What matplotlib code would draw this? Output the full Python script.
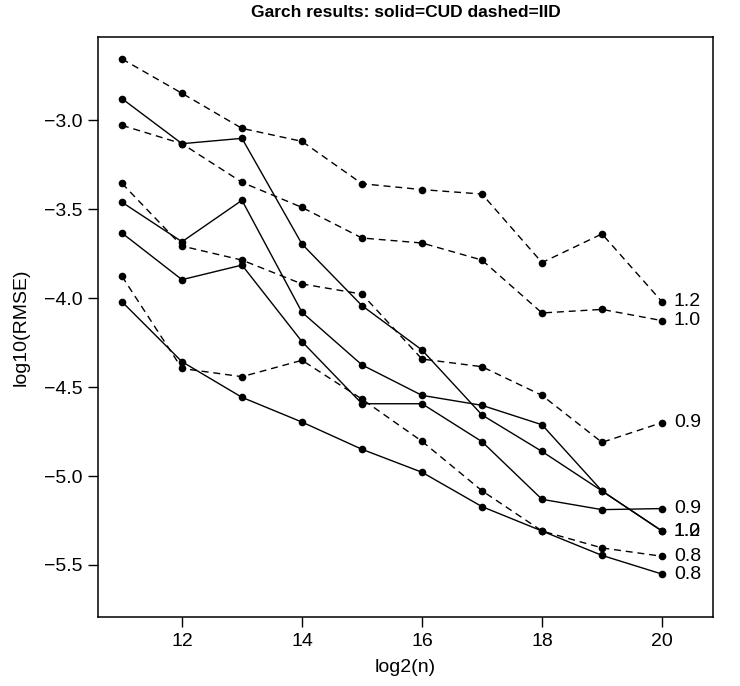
import matplotlib
matplotlib.use("Agg")
import matplotlib.pyplot as plt

plt.rcParams['font.family'] = ['Liberation Sans', 'DejaVu Sans']

log2n = [11, 12, 13, 14, 15, 16, 17, 18, 19, 20]

# CUD (solid) results, labelled by parameter value
cud_labels = ["1.2", "1.0", "0.9", "0.8"]
cud_12 = [-2.880, -3.133, -3.103, -3.697, -4.043, -4.292, -4.657, -4.862, -5.084, -5.309]
cud_10 = [-3.462, -3.684, -3.451, -4.080, -4.376, -4.547, -4.603, -4.712, -5.084, -5.309]
cud_09 = [-3.635, -3.897, -3.815, -4.245, -4.594, -4.594, -4.807, -5.131, -5.189, -5.183]
cud_08 = [-4.021, -4.358, -4.558, -4.697, -4.850, -4.979, -5.172, -5.309, -5.446, -5.551]

# IID (dashed) results
iid_labels = ["1.2", "1.0", "0.9", "0.8"]
iid_12 = [-2.657, -2.850, -3.047, -3.120, -3.358, -3.391, -3.416, -3.801, -3.640, -4.021]
iid_10 = [-3.030, -3.133, -3.350, -3.491, -3.663, -3.691, -3.787, -4.084, -4.064, -4.127]
iid_09 = [-3.356, -3.708, -3.787, -3.921, -3.978, -4.343, -4.386, -4.547, -4.811, -4.700]
iid_08 = [-3.878, -4.396, -4.442, -4.350, -4.568, -4.805, -5.083, -5.309, -5.404, -5.451]

x_ticks = [12, 14, 16, 18, 20]
y_ticks = [-3.0, -3.5, -4.0, -4.5, -5.0, -5.5]

fig = plt.figure(figsize=(7.40, 6.86), dpi=100)
ax = fig.add_axes([0.1328, 0.1001, 0.9635 - 0.1328, 0.9465 - 0.1001])

def draw(series, labels, dashed):
    for ys, lab in zip(series, labels):
        line, = ax.plot(log2n, ys, color="black", lw=1.0, marker="o",
                        markersize=5.5, markeredgewidth=0)
        if dashed:
            line.set_dashes((5, 3.5))
        ax.annotate(lab, xy=(log2n[-1], ys[-1]), xytext=(8.5, 0),
                    textcoords="offset points", ha="left", va="center",
                    fontsize=14)

draw([cud_12, cud_10, cud_09, cud_08], cud_labels, dashed=False)
draw([iid_12, iid_10, iid_09, iid_08], iid_labels, dashed=True)

ax.set_xlim(10.605, 20.85)
ax.set_ylim(-5.794, -2.532)
ax.set_xticks(x_ticks)
ax.set_xticklabels([str(t) for t in x_ticks])
ax.set_yticks(y_ticks)
ax.set_yticklabels([f"\u2212{abs(t):.1f}" for t in y_ticks])
ax.tick_params(direction="out", length=7.5, width=1.0, labelsize=14, pad=4,
               colors="black")

for s in ax.spines.values():
    s.set_linewidth(1.1)

ax.set_xlabel("log2(n)", fontsize=14, labelpad=6)
ax.set_ylabel("log10(RMSE)", fontsize=14, labelpad=10)
ax.set_title("Garch results: solid=CUD dashed=IID", fontsize=12.5,
             fontweight="bold", pad=14)

fig.savefig("out.png", dpi=100)
